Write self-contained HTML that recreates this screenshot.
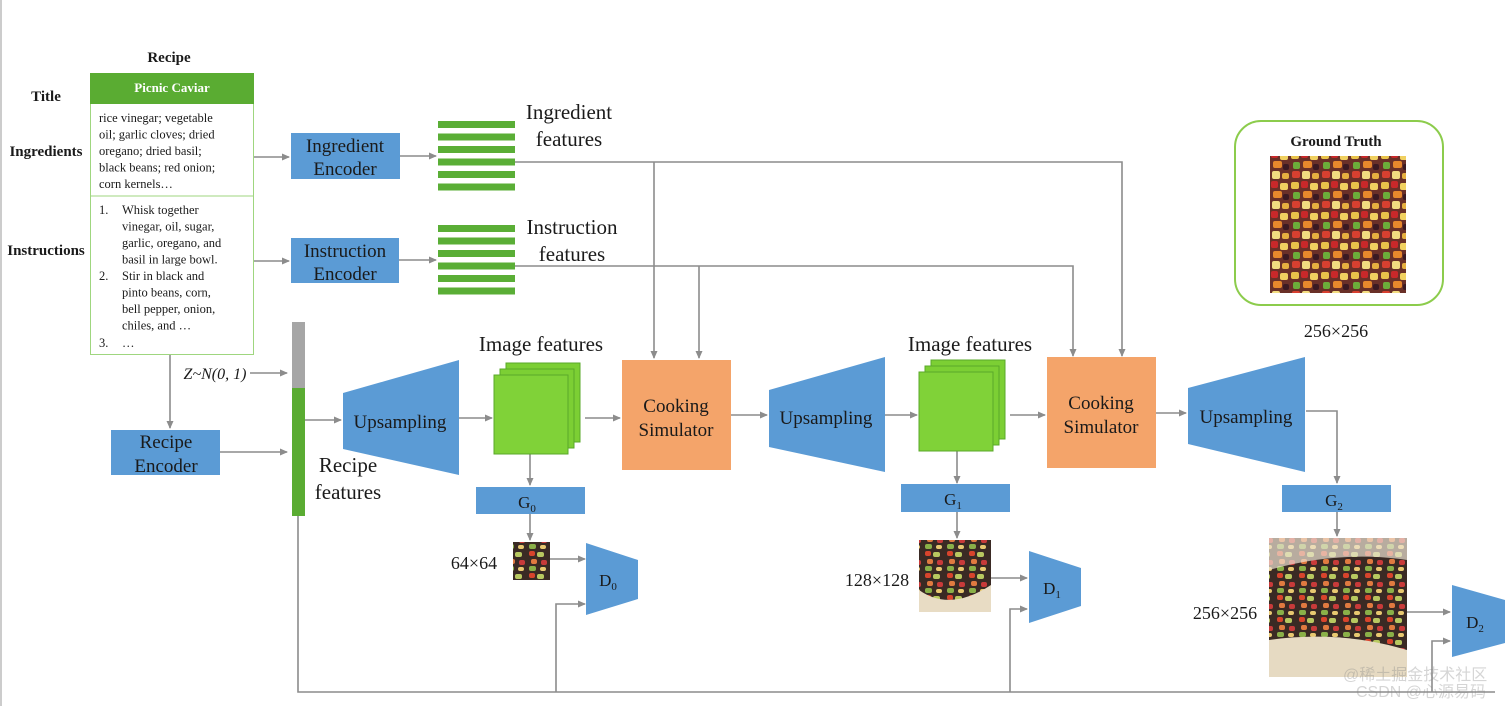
<!DOCTYPE html>
<html><head><meta charset="utf-8"><style>
html,body{margin:0;padding:0;background:#fff}
svg{display:block}
text{font-family:"Liberation Serif",serif;fill:#1a1a1a}
</style></head><body>
<svg width="1512" height="706" viewBox="0 0 1512 706" xmlns="http://www.w3.org/2000/svg">
<defs>
<marker id="a" markerWidth="8" markerHeight="8" refX="7" refY="4" orient="auto" markerUnits="userSpaceOnUse"><path d="M0,0.5 L8,4 L0,7.5z" fill="#8c8c8c"/></marker>
<pattern id="food" width="30" height="30" patternUnits="userSpaceOnUse">
<rect width="30" height="30" fill="#6a3028"/>
<rect x="1" y="2" width="8" height="7" rx="2" fill="#e9c34a"/>
<rect x="11" y="1" width="7" height="7" rx="2" fill="#c8282a"/>
<rect x="20" y="3" width="8" height="7" rx="2" fill="#f0d060"/>
<rect x="3" y="12" width="7" height="7" rx="2" fill="#6cae3a"/>
<rect x="13" y="11" width="9" height="7" rx="2" fill="#e8882c"/>
<rect x="23" y="14" width="6" height="6" rx="2" fill="#3a1a22"/>
<rect x="2" y="21" width="8" height="7" rx="2" fill="#d84030"/>
<rect x="12" y="21" width="8" height="8" rx="2" fill="#f2dc80"/>
<rect x="22" y="23" width="7" height="6" rx="2" fill="#e6b040"/>
</pattern>
<pattern id="food2" width="22" height="22" patternUnits="userSpaceOnUse">
<rect width="22" height="22" fill="#3a2a24"/>
<rect x="1" y="1" width="6" height="5" rx="2" fill="#d8442c"/>
<rect x="9" y="2" width="7" height="5" rx="2" fill="#b8c860"/>
<rect x="3" y="9" width="6" height="5" rx="2" fill="#e07a40"/>
<rect x="13" y="10" width="6" height="5" rx="2" fill="#c83a3a"/>
<rect x="1" y="16" width="7" height="5" rx="2" fill="#8ab048"/>
<rect x="12" y="17" width="6" height="4" rx="2" fill="#e8c870"/>
</pattern>
</defs>
<line x1="1" y1="0" x2="1" y2="706" stroke="#999" stroke-width="1"/>

<text x="169" y="62" font-size="15" font-weight="bold" text-anchor="middle">Recipe</text>
<text x="46" y="101" font-size="15" font-weight="bold" text-anchor="middle">Title</text>
<text x="46" y="156" font-size="15" font-weight="bold" text-anchor="middle">Ingredients</text>
<text x="46" y="255" font-size="15" font-weight="bold" text-anchor="middle">Instructions</text>
<rect x="90.5" y="73.5" width="163" height="281" fill="#fff" stroke="#9fd67f" stroke-width="1"/>
<rect x="90" y="73" width="164" height="31" fill="#5aac32"/>
<text x="172" y="92" font-size="13" font-weight="bold" text-anchor="middle" style="fill:#fff">Picnic Caviar</text>
<line x1="90" y1="196" x2="254" y2="196" stroke="#9fd67f"/>
<g font-size="12.5">
<text x="99" y="122">rice vinegar; vegetable</text>
<text x="99" y="138.5">oil; garlic cloves; dried</text>
<text x="99" y="155">oregano; dried basil;</text>
<text x="99" y="171.5">black beans; red onion;</text>
<text x="99" y="188">corn kernels…</text>
<text x="99" y="214">1.</text><text x="122" y="214">Whisk together</text>
<text x="122" y="230.5">vinegar, oil, sugar,</text>
<text x="122" y="247">garlic, oregano, and</text>
<text x="122" y="263.5">basil in large bowl.</text>
<text x="99" y="280">2.</text><text x="122" y="280">Stir in black and</text>
<text x="122" y="296.5">pinto beans, corn,</text>
<text x="122" y="313">bell pepper, onion,</text>
<text x="122" y="329.5">chiles, and …</text>
<text x="99" y="347">3.</text><text x="122" y="347">…</text>
</g>

<g stroke="#8c8c8c" stroke-width="1.6" fill="none">
<line x1="254" y1="157" x2="289" y2="157" marker-end="url(#a)"/>
<line x1="254" y1="261" x2="289" y2="261" marker-end="url(#a)"/>
<line x1="400" y1="156" x2="436" y2="156" marker-end="url(#a)"/>
<line x1="399" y1="260" x2="436" y2="260" marker-end="url(#a)"/>
<polyline points="515,162 1122,162 1122,356" marker-end="url(#a)"/>
<line x1="654" y1="162" x2="654" y2="358" marker-end="url(#a)"/>
<polyline points="515,266 1073,266 1073,356" marker-end="url(#a)"/>
<line x1="699" y1="266" x2="699" y2="358" marker-end="url(#a)"/>
<line x1="170" y1="355" x2="170" y2="428" marker-end="url(#a)"/>
<line x1="250" y1="373" x2="287" y2="373" marker-end="url(#a)"/>
<line x1="220" y1="452" x2="287" y2="452" marker-end="url(#a)"/>
<line x1="305" y1="420" x2="341" y2="420" marker-end="url(#a)"/>
<line x1="459" y1="418" x2="492" y2="418" marker-end="url(#a)"/>
<line x1="585" y1="418" x2="620" y2="418" marker-end="url(#a)"/>
<line x1="530" y1="454" x2="530" y2="485" marker-end="url(#a)"/>
<line x1="530" y1="514" x2="530" y2="540" marker-end="url(#a)"/>
<line x1="550" y1="559" x2="585" y2="559" marker-end="url(#a)"/>
<polyline points="556,692 556,604 585,604" marker-end="url(#a)"/>
<line x1="731" y1="415" x2="767" y2="415" marker-end="url(#a)"/>
<line x1="885" y1="415" x2="917" y2="415" marker-end="url(#a)"/>
<line x1="1010" y1="415" x2="1045" y2="415" marker-end="url(#a)"/>
<line x1="957" y1="451" x2="957" y2="483" marker-end="url(#a)"/>
<line x1="957" y1="512" x2="957" y2="538" marker-end="url(#a)"/>
<line x1="991" y1="578" x2="1027" y2="578" marker-end="url(#a)"/>
<polyline points="1010,692 1010,609 1027,609" marker-end="url(#a)"/>
<line x1="1156" y1="413" x2="1186" y2="413" marker-end="url(#a)"/>
<polyline points="1306,411 1337,411 1337,483" marker-end="url(#a)"/>
<line x1="1337" y1="512" x2="1337" y2="536" marker-end="url(#a)"/>
<line x1="1407" y1="612" x2="1450" y2="612" marker-end="url(#a)"/>
<polyline points="1432,692 1432,641 1450,641" marker-end="url(#a)"/>
<polyline points="298,516 298,692 1495,692"/>
</g>

<g fill="#5b9bd5">
<rect x="291" y="133" width="109" height="46"/>
<rect x="291" y="238" width="108" height="45"/>
<rect x="111" y="430" width="109" height="45"/>
<rect x="476" y="487" width="109" height="27"/>
<rect x="901" y="484" width="109" height="28"/>
<rect x="1282" y="485" width="109" height="27"/>
<polygon points="343,393 459,360 459,475 343,449"/>
<polygon points="769,390 885,357 885,472 769,447"/>
<polygon points="1188,388 1305,357 1305,472 1188,444"/>
<polygon points="586,543 638,560 638,599 586,615"/>
<polygon points="1029,551 1081,568 1081,606 1029,623"/>
<polygon points="1452,585 1505,600 1505,643 1452,657"/>
</g>
<rect x="622" y="360" width="109" height="110" fill="#f4a46a"/>
<rect x="1047" y="357" width="109" height="111" fill="#f4a46a"/>
<g font-size="19" text-anchor="middle">
<text x="345" y="152">Ingredient</text><text x="345" y="175">Encoder</text>
<text x="345" y="257">Instruction</text><text x="345" y="280">Encoder</text>
<text x="166" y="448">Recipe</text><text x="166" y="472">Encoder</text>
<text x="400" y="428">Upsampling</text>
<text x="826" y="424">Upsampling</text>
<text x="1246" y="423">Upsampling</text>
<text x="676" y="412">Cooking</text><text x="676" y="436">Simulator</text>
<text x="1101" y="409">Cooking</text><text x="1101" y="433">Simulator</text>
</g>
<g font-size="17" text-anchor="middle">
<text x="527" y="508">G<tspan font-size="11" dy="4">0</tspan></text>
<text x="953" y="505">G<tspan font-size="11" dy="4">1</tspan></text>
<text x="1334" y="506">G<tspan font-size="11" dy="4">2</tspan></text>
<text x="608" y="586">D<tspan font-size="11" dy="4">0</tspan></text>
<text x="1052" y="594">D<tspan font-size="11" dy="4">1</tspan></text>
<text x="1475" y="628">D<tspan font-size="11" dy="4">2</tspan></text>
</g>

<g fill="#5aae36">
<rect x="438" y="121" width="77" height="7"/><rect x="438" y="133.5" width="77" height="7"/><rect x="438" y="146" width="77" height="7"/><rect x="438" y="158.5" width="77" height="7"/><rect x="438" y="171" width="77" height="7"/><rect x="438" y="183.5" width="77" height="7"/>
<rect x="438" y="225" width="77" height="7"/><rect x="438" y="237.5" width="77" height="7"/><rect x="438" y="250" width="77" height="7"/><rect x="438" y="262.5" width="77" height="7"/><rect x="438" y="275" width="77" height="7"/><rect x="438" y="287.5" width="77" height="7"/>
</g>
<g font-size="21" text-anchor="middle">
<text x="569" y="119">Ingredient</text><text x="569" y="146">features</text>
<text x="572" y="234">Instruction</text><text x="572" y="261">features</text>
<text x="348" y="472">Recipe</text><text x="348" y="499">features</text>
<text x="541" y="351">Image features</text>
<text x="970" y="351">Image features</text>
</g>
<text x="215" y="379" font-size="16" font-style="italic" text-anchor="middle">Z~N(0, 1)</text>

<rect x="292" y="322" width="13" height="66" fill="#a6a6a6"/>
<rect x="292" y="388" width="13" height="128" fill="#5aac32"/>

<g stroke="#5aa82a" stroke-width="1">
<rect x="506" y="363" width="74" height="79" fill="#7ccf34"/>
<rect x="500" y="369" width="74" height="79" fill="#7ccf34"/>
<rect x="494" y="375" width="74" height="79" fill="#80d238"/>
<rect x="931" y="360" width="74" height="79" fill="#7ccf34"/>
<rect x="925" y="366" width="74" height="79" fill="#7ccf34"/>
<rect x="919" y="372" width="74" height="79" fill="#80d238"/>
</g>

<rect x="513" y="542" width="37" height="38" fill="url(#food2)"/>
<rect x="919" y="540" width="72" height="72" fill="url(#food2)"/>
<path d="M919,590 Q950,612 991,585 L991,612 L919,612z" fill="#e8dcc4"/>
<rect x="1269" y="538" width="138" height="139" fill="url(#food2)"/>
<path d="M1269,538 L1407,538 L1407,560 Q1340,550 1269,570z" fill="#eee4d4" opacity="0.7"/>
<path d="M1269,640 Q1340,630 1407,650 L1407,677 L1269,677z" fill="#e6dac2"/>
<g font-size="18" text-anchor="middle">
<text x="474" y="569">64×64</text>
<text x="877" y="586">128×128</text>
<text x="1225" y="619">256×256</text>
<text x="1336" y="337">256×256</text>
</g>

<rect x="1235" y="121" width="208" height="184" rx="26" fill="none" stroke="#8ccc4c" stroke-width="2"/>
<text x="1336" y="146" font-size="15" font-weight="bold" text-anchor="middle">Ground Truth</text>
<rect x="1270" y="156" width="136" height="137" fill="url(#food)"/>

<g font-size="16" opacity="0.35">
<text x="1343" y="680" style="fill:#888;font-family:'Liberation Sans','Noto Sans CJK SC',sans-serif">@稀土掘金技术社区</text>
<text x="1356" y="697" style="fill:#888;font-family:'Liberation Sans','Noto Sans CJK SC',sans-serif">CSDN @心源易码</text>
</g>
</svg>
</body></html>
